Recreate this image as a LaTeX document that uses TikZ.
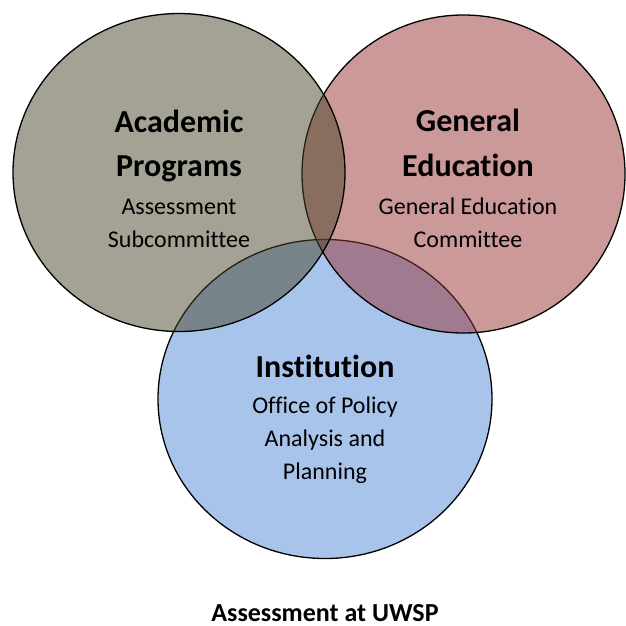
\documentclass[tikz,border=0pt]{standalone}
\usepackage{fontspec}
\setmainfont{Carlito}[Ligatures=NoCommon]
\usepackage{xcolor}
\usetikzlibrary{shapes.geometric}
\definecolor{acadgray}{RGB}{71,69,41}
\definecolor{gedrose}{RGB}{153,51,51}
\definecolor{instblue}{RGB}{83,137,215}
\tikzset{
	venn/.style={ellipse, draw=black, line width=1.3pt, fill opacity=0.5, inner sep=0pt},
	head/.style={anchor=base, font=\fontsize{32}{38}\selectfont\bfseries},
	sub/.style={anchor=base, font=\fontsize{24}{29}\selectfont},
	foot/.style={anchor=base, inner sep=0pt, font=\fontsize{26}{31}\selectfont\bfseries}
}

\begin{document}
\begin{tikzpicture}[x=1pt, y=-1pt]
		\path[use as bounding box, clip] (0,0) rectangle (626,625);
		% circles, lowest first
		\node[venn, fill=instblue, minimum width=334pt, minimum height=319pt] (inst) at (325,399) {};
		\node[venn, fill=gedrose, minimum width=323pt, minimum height=318pt] (ged) at (463.5,174) {};
		\node[venn, fill=acadgray, minimum width=332pt, minimum height=318pt] (acad) at (179,172.5) {};
		% labels
		\node[head] (acad-head1) at (179,132) {Academic};
		\node[head] (acad-head2) at (179,176) {Programs};
		\foreach \t/\y [count=\i] in {Assessment/214, Subcommittee/247}
			{
				\node[sub] (acad-sub\i) at (179,\y) {\t};
			}
		\node[head] (ged-head1) at (468,131) {General};
		\node[head] (ged-head2) at (468,176) {Education};
		\foreach \t/\y [count=\i] in {General Education/214, Committee/247}
			{
				\node[sub] (ged-sub\i) at (468,\y) {\t};
			}
		\node[head] (inst-head) at (325,377) {Institution};
		\foreach \t/\y [count=\i] in {Office of Policy/413, Analysis and/446, Planning/479}
			{
				\node[sub] (inst-sub\i) at (325,\y) {\t};
			}
		\node[foot] (caption) at (325,621) {Assessment at UWSP};
	\end{tikzpicture}
\end{document}
